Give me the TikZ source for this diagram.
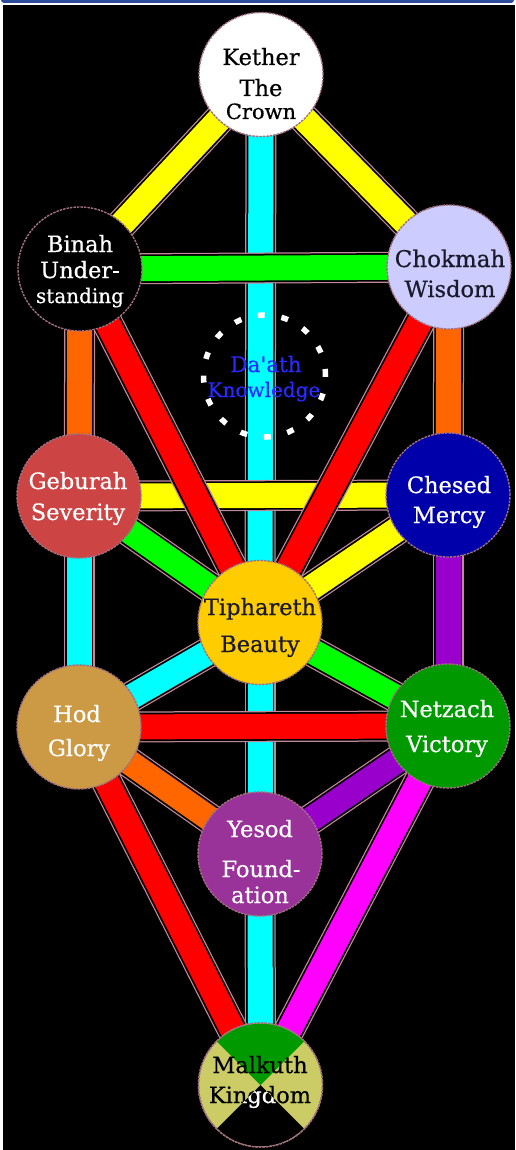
\documentclass[tikz,border=0pt]{standalone}
\usepackage{fontspec}
\setmainfont{DejaVu Serif}
\newfontfamily\seffont[FakeBold=0.6]{DejaVu Serif}
\definecolor{topblue}{HTML}{2C4C9C}
\definecolor{pedge}{HTML}{C08898}
\definecolor{cedge}{HTML}{A07080}
\definecolor{pyellow}{HTML}{FFFF00}
\definecolor{pcyan}{HTML}{00FFFF}
\definecolor{pgreen}{HTML}{00FF00}
\definecolor{porange}{HTML}{FF6600}
\definecolor{pred}{HTML}{FF0000}
\definecolor{ppurple}{HTML}{9900CC}
\definecolor{pmagenta}{HTML}{FF00FF}
\definecolor{cchokmah}{HTML}{CCCCFF}
\definecolor{cgeburah}{HTML}{CC4444}
\definecolor{cchesed}{HTML}{0000AA}
\definecolor{ctiph}{HTML}{FFCC00}
\definecolor{chod}{HTML}{CC9944}
\definecolor{cnetzach}{HTML}{009900}
\definecolor{cyesod}{HTML}{993399}
\definecolor{colive}{HTML}{CCCC66}
\definecolor{cmgreen}{HTML}{009900}
\definecolor{dtext}{HTML}{1A1A2A}
\definecolor{daathblue}{HTML}{2A2AFF}
\newcommand\sefpath[3]{%
  \draw[line width=31pt, draw=pedge] (#1) -- (#2);
  \draw[line width=28.5pt, draw=black] (#1) -- (#2);
  \draw[line width=25pt, draw=#3] (#1) -- (#2);}
\tikzset{
  sef/.style={circle, minimum size=124pt, inner sep=0pt, draw=cedge, line width=1.4pt, dash pattern=on 2.5pt off 1pt},
  lbl/.style={anchor=base, inner sep=0pt, font=\seffont\fontsize{22.5}{26}\selectfont},
}
\begin{document}
\begin{tikzpicture}[x=1pt, y=-1pt]
\useasboundingbox (0,0) rectangle (515,1150);
\fill[white] (0,0) rectangle (515,1150);
\fill[topblue, rounded corners=3pt] (1,-8) rectangle (514,3);
\fill[black] (3,5) rectangle (515,1150);

% positions
\coordinate (pK) at (261,74.5);
\coordinate (pB) at (80,269);
\coordinate (pC) at (449,267);
\coordinate (pD) at (264.5,376);
\coordinate (pG) at (79,496);
\coordinate (pS) at (448,495);
\coordinate (pT) at (260,622.5);
\coordinate (pH) at (79,727);
\coordinate (pN) at (448,726);
\coordinate (pY) at (260,854);
\coordinate (pM) at (260.5,1085);

% paths
\sefpath{pK}{pT}{pcyan}
\sefpath{pT}{pY}{pcyan}
\sefpath{pY}{pM}{pcyan}
\sefpath{pB}{pC}{pgreen}
\sefpath{pK}{pB}{pyellow}
\sefpath{pK}{pC}{pyellow}
\sefpath{pB}{pG}{porange}
\sefpath{pC}{pS}{porange}
\sefpath{pG}{pS}{pyellow}
\sefpath{pG}{pT}{pgreen}
\sefpath{pS}{pT}{pyellow}
\sefpath{pB}{pT}{pred}
\sefpath{pC}{pT}{pred}
\sefpath{pG}{pH}{pcyan}
\sefpath{pS}{pN}{ppurple}
\sefpath{pT}{pH}{pcyan}
\sefpath{pT}{pN}{pgreen}
\sefpath{pH}{pN}{pred}
\sefpath{pH}{pM}{pred}
\sefpath{pN}{pM}{pmagenta}
\sefpath{pH}{pY}{porange}
\sefpath{pN}{pY}{ppurple}

% Da'ath
\draw[white, line width=5.5pt, dash pattern=on 7pt off 16.9pt] (pD) circle[radius=61pt];

% sephiroth
\node[sef, fill=white] (kether) at (pK) {};
\node[sef, fill=black] (binah) at (pB) {};
\node[sef, fill=cchokmah] (chokmah) at (pC) {};
\node[sef, fill=cgeburah] (geburah) at (pG) {};
\node[sef, fill=cchesed] (chesed) at (pS) {};
\node[sef, fill=ctiph] (tiphareth) at (pT) {};
\node[sef, fill=chod] (hod) at (pH) {};
\node[sef, fill=cnetzach] (netzach) at (pN) {};
\node[sef, fill=cyesod] (yesod) at (pY) {};
\node[sef, fill=colive] (malkuth) at (pM) {};
\begin{scope}
  \clip (pM) circle[radius=61.4pt];
  \fill[cmgreen] (pM) -- ++(-110,-110) -- ++(220,0) -- cycle;
  \fill[black] (pM) -- ++(-110,110) -- ++(220,0) -- cycle;
\end{scope}
\draw[cedge, line width=1.4pt, dash pattern=on 2.5pt off 1pt] (pM) circle[radius=62pt];

% labels
\node[lbl, text=black] (t1) at (261,65) {Kether};
\node[lbl, text=black] (t2) at (261,96) {The};
\node[lbl, text=black, font=\seffont\fontsize{21}{25}\selectfont] (t3) at (261,119) {Crown};
\node[lbl, text=white] (t4) at (80,252) {Binah};
\node[lbl, text=white] (t5) at (80,278) {Under-};
\node[lbl, text=white, font=\seffont\fontsize{20}{24}\selectfont] (t6) at (80,303) {standing};
\node[lbl, text=dtext, font=\seffont\fontsize{23}{26}\selectfont] (t7) at (450,267) {Chokmah};
\node[lbl, text=dtext] (t8) at (450,297) {Wisdom};
\node[lbl, text=daathblue, font=\seffont\fontsize{21.5}{25}\selectfont] (t9) at (266,372) {Da'ath};
\node[lbl, text=daathblue, font=\seffont\fontsize{20}{24}\selectfont] (t10) at (264,397) {Knowledge};
\node[lbl, text=white] (t11) at (78,489) {Geburah};
\node[lbl, text=white] (t12) at (78,520) {Severity};
\node[lbl, text=white] (t13) at (449,493) {Chesed};
\node[lbl, text=white] (t14) at (449,523) {Mercy};
\node[lbl, text=dtext] (t15) at (260,615) {Tiphareth};
\node[lbl, text=dtext] (t16) at (260,652) {Beauty};
\node[lbl, text=white] (t17) at (77,722) {Hod};
\node[lbl, text=white] (t18) at (79,756) {Glory};
\node[lbl, text=white] (t19) at (447,717) {Netzach};
\node[lbl, text=white] (t20) at (447,752) {Victory};
\node[lbl, text=white] (t21) at (260,837) {Yesod};
\node[lbl, text=white] (t22) at (261,877) {Found-};
\node[lbl, text=white] (t23) at (260,903) {ation};
\node[lbl, text=black] (t24) at (260,1073) {Malkuth};
\node[lbl, text=black] (t25) at (260,1103) {Kingdom};
\begin{scope}
  \clip (pM) -- ++(-110,110) -- ++(220,0) -- cycle;
  \node[lbl, text=white] (t26) at (260,1103) {Kingdom};
\end{scope}
\end{tikzpicture}
\end{document}
